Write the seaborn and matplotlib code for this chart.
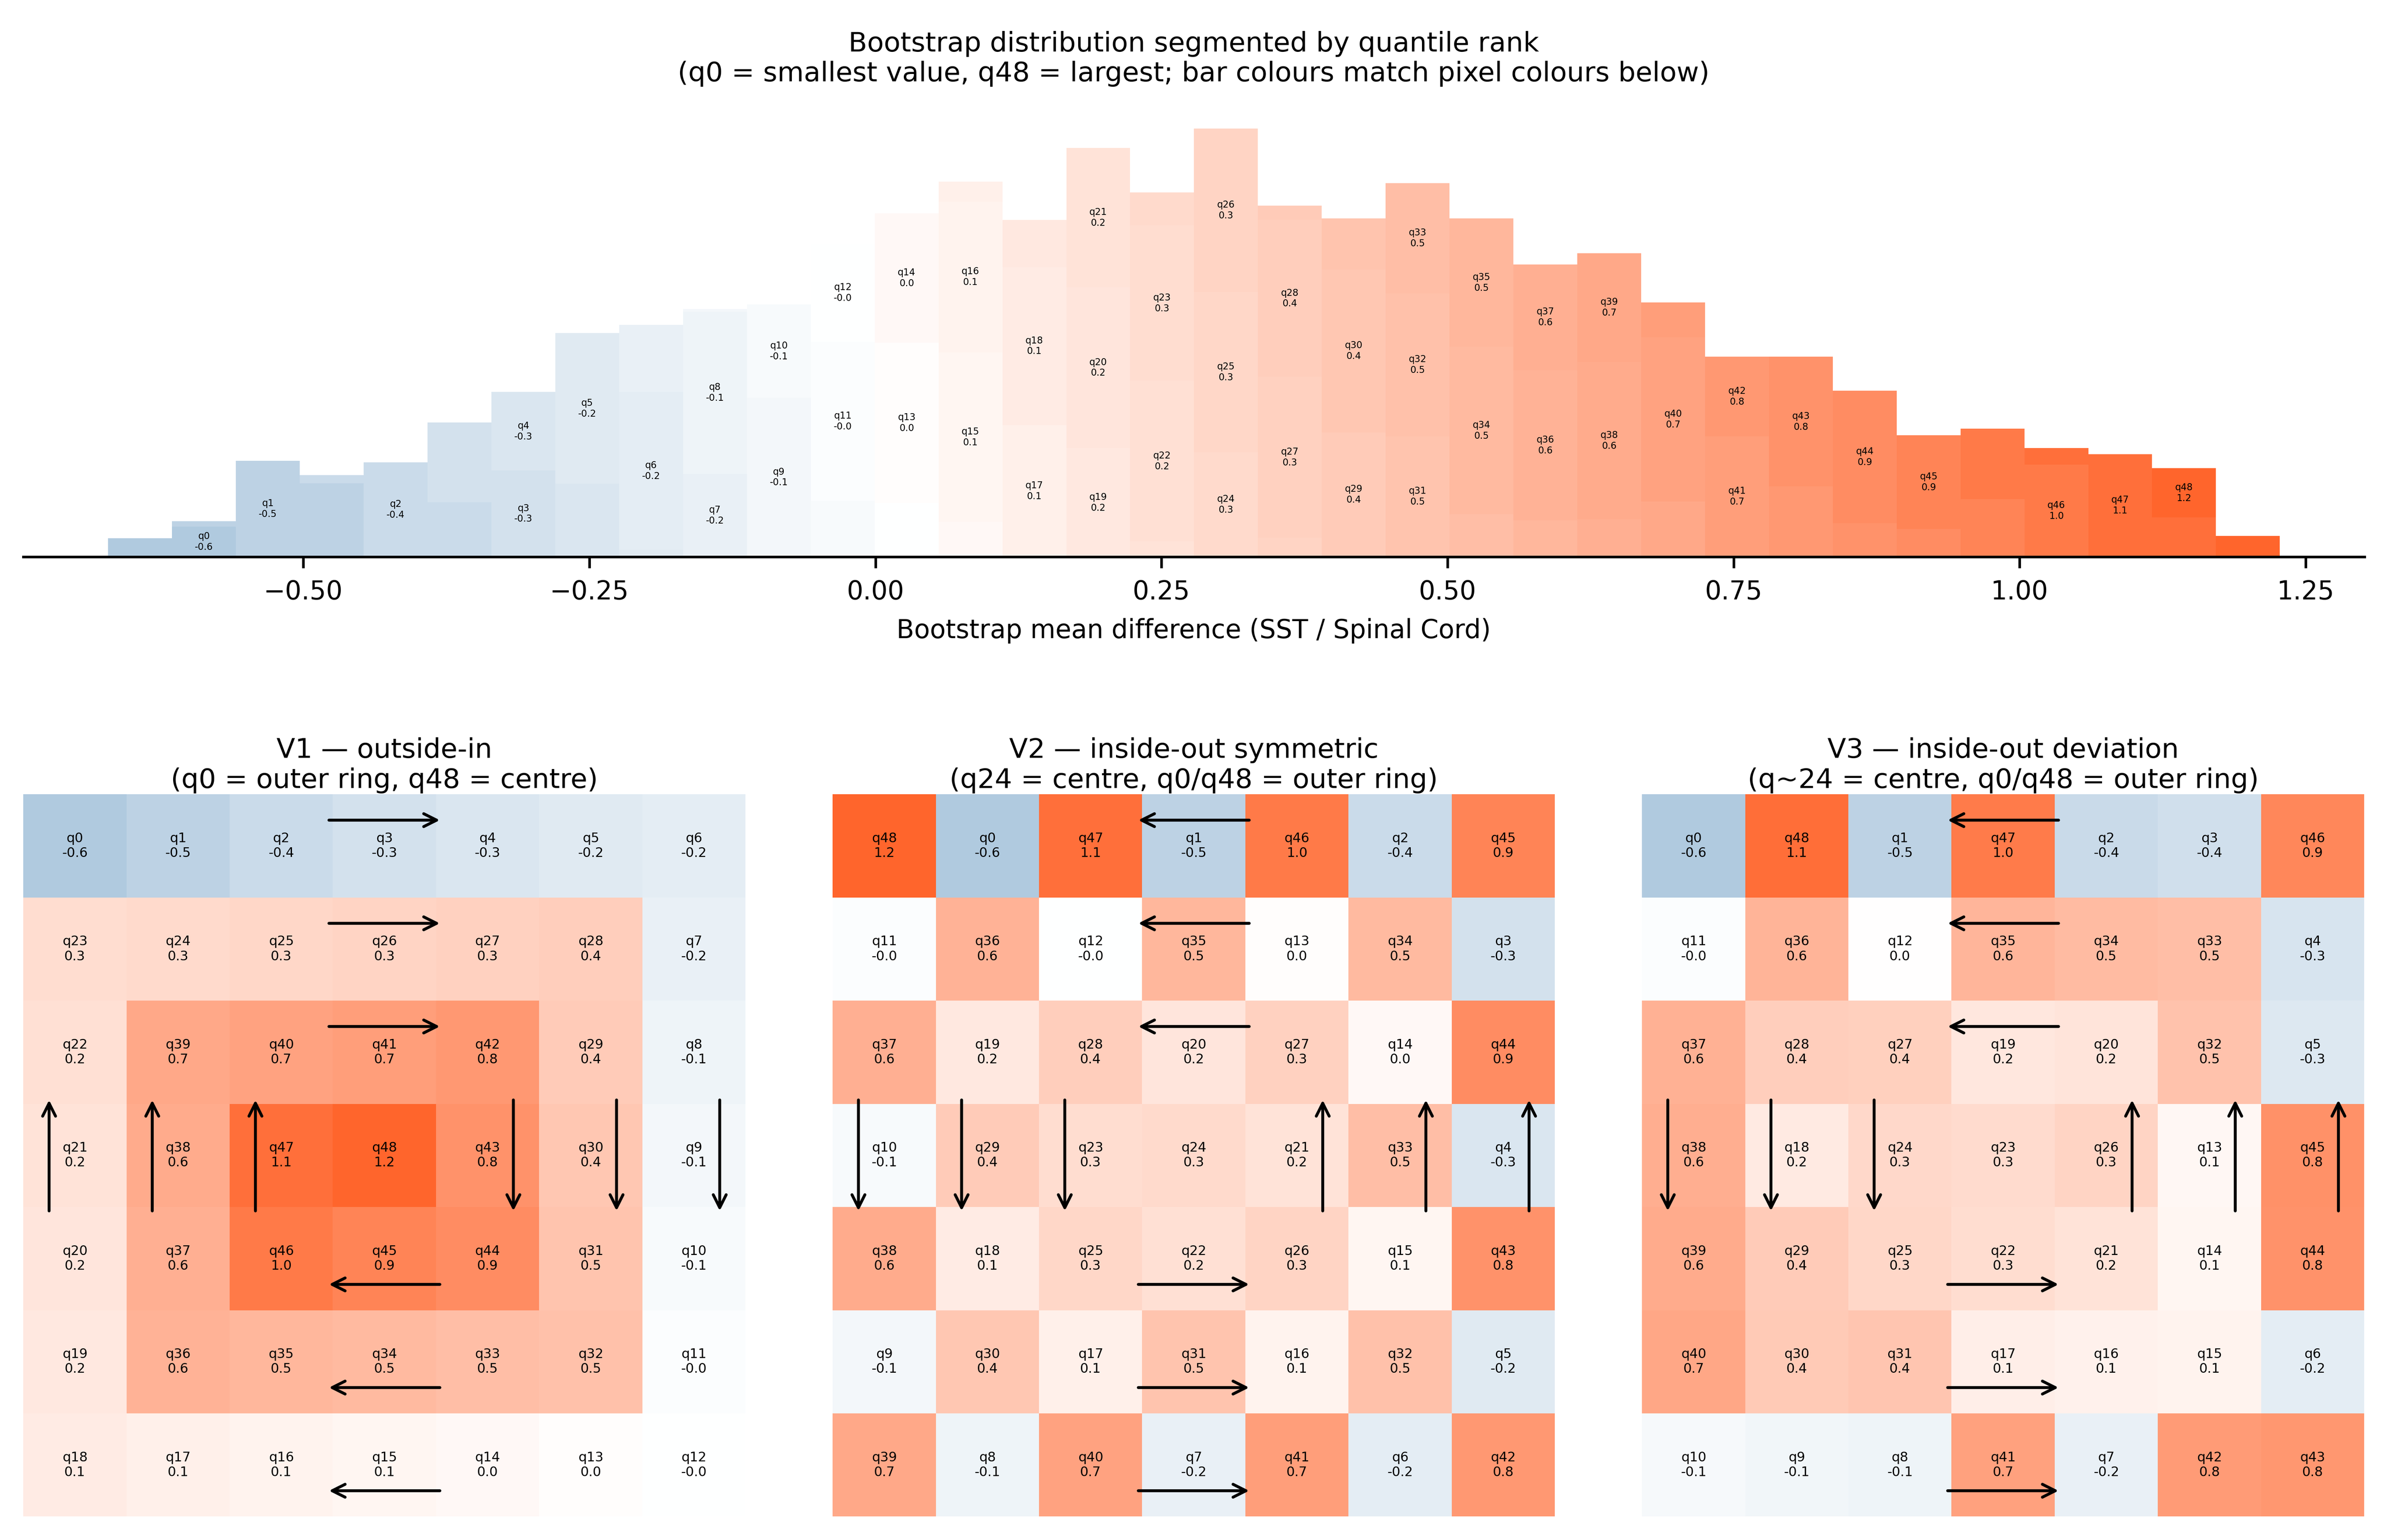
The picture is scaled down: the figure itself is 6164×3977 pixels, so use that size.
import numpy as np
import pandas as pd
import matplotlib
matplotlib.use("Agg")
import matplotlib.pyplot as plt
from matplotlib.colors import LinearSegmentedColormap, Normalize
import seaborn as sns

# ------------------------------------------------------------------ data
bin_min = -0.6706
bin_max = 1.2275
n_bins = 34

# stacked histogram segments (bottom -> top inside each bin)
seg_bin = [0, 1, 1, 2, 3, 3, 4, 5, 5, 6, 6, 7, 7, 8, 8, 8, 9, 9, 9, 10, 10,
           11, 11, 11, 12, 12, 12, 13, 13, 13, 13, 14, 14, 14, 15, 15, 15,
           16, 16, 16, 16, 17, 17, 17, 18, 18, 18, 18, 19, 19, 19, 20, 20, 20,
           21, 21, 21, 22, 22, 22, 23, 23, 23, 24, 24, 24, 25, 25, 26, 26,
           27, 27, 28, 28, 29, 29, 30, 30, 31, 32, 32, 33]
seg_q = [0, 0, 1, 1, 1, 2, 2, 2, 3, 3, 4, 4, 5, 5, 6, 7, 7, 8, 9, 9, 10,
         10, 11, 12, 12, 13, 14, 14, 15, 16, 17, 17, 18, 19, 19, 20, 21,
         21, 22, 23, 24, 24, 25, 26, 26, 27, 28, 29, 29, 30, 31, 31, 32, 33,
         33, 34, 35, 35, 36, 37, 37, 38, 39, 39, 40, 41, 41, 42, 42, 43,
         43, 44, 44, 45, 45, 46, 46, 47, 47, 47, 48, 48]
seg_count = [62, 102, 18, 324, 248, 27, 318, 184, 269, 291, 264, 246, 508,
             24, 532, 225, 279, 547, 9, 536, 314, 189, 535, 330, 181, 540,
             436, 117, 572, 507, 68, 444, 532, 159, 366, 542, 469, 52, 541,
             523, 111, 352, 540, 550, 64, 543, 527, 49, 419, 549, 172, 406,
             481, 372, 144, 563, 433, 122, 507, 356, 126, 530, 367, 186, 553,
             118, 406, 268, 237, 437, 113, 447, 94, 316, 194, 238, 311, 56,
             346, 133, 165, 71]

# representative value of each quantile group (histogram, V1, V2)
q_values = [-0.61, -0.51, -0.41, -0.34, -0.28, -0.24, -0.20, -0.17, -0.13,
            -0.096, -0.061, -0.032, -0.005, 0.021, 0.048, 0.073, 0.097, 0.120,
            0.146, 0.171, 0.193, 0.214, 0.237, 0.262, 0.283, 0.303, 0.325,
            0.348, 0.376, 0.399, 0.424, 0.451, 0.475, 0.497, 0.523, 0.548,
            0.579, 0.607, 0.635, 0.665, 0.699, 0.737, 0.780, 0.823, 0.875,
            0.940, 1.011, 1.095, 1.169]
# values shown in V3
v3_values = [-0.60, -0.50, -0.42, -0.36, -0.31, -0.26, -0.21, -0.17, -0.13,
             -0.10, -0.07, -0.03, 0.01, 0.06, 0.07, 0.09, 0.11, 0.13, 0.16,
             0.18, 0.20, 0.22, 0.26, 0.27, 0.29, 0.31, 0.33, 0.36, 0.37, 0.39,
             0.41, 0.44, 0.46, 0.49, 0.52, 0.56, 0.57, 0.59, 0.62, 0.64, 0.67,
             0.71, 0.76, 0.79, 0.83, 0.84, 0.92, 1.00, 1.10]

v1_grid = [[0, 1, 2, 3, 4, 5, 6],
           [23, 24, 25, 26, 27, 28, 7],
           [22, 39, 40, 41, 42, 29, 8],
           [21, 38, 47, 48, 43, 30, 9],
           [20, 37, 46, 45, 44, 31, 10],
           [19, 36, 35, 34, 33, 32, 11],
           [18, 17, 16, 15, 14, 13, 12]]
v2_grid = [[48, 0, 47, 1, 46, 2, 45],
           [11, 36, 12, 35, 13, 34, 3],
           [37, 19, 28, 20, 27, 14, 44],
           [10, 29, 23, 24, 21, 33, 4],
           [38, 18, 25, 22, 26, 15, 43],
           [9, 30, 17, 31, 16, 32, 5],
           [39, 8, 40, 7, 41, 6, 42]]
v3_grid = [[0, 48, 1, 47, 2, 3, 46],
           [11, 36, 12, 35, 34, 33, 4],
           [37, 28, 27, 19, 20, 32, 5],
           [38, 18, 24, 23, 26, 13, 45],
           [39, 29, 25, 22, 21, 14, 44],
           [40, 30, 31, 17, 16, 15, 6],
           [10, 9, 8, 41, 7, 42, 43]]

top_title = ("Bootstrap distribution segmented by quantile rank\n"
             "(q0 = smallest value, q48 = largest; bar colours match pixel colours below)")
x_label = "Bootstrap mean difference (SST / Spinal Cord)"
panel_titles = ["V1 \u2014 outside-in\n(q0 = outer ring, q48 = centre)",
                "V2 \u2014 inside-out symmetric\n(q24 = centre, q0/q48 = outer ring)",
                "V3 \u2014 inside-out deviation\n(q~24 = centre, q0/q48 = outer ring)"]

# ------------------------------------------------------------------ style
assert len(seg_bin) == len(seg_q) == len(seg_count)
cmap = LinearSegmentedColormap.from_list("blue_white_orange",
                                         ["steelblue", "white", "orangered"])
VLIM = 1.42
norm = Normalize(vmin=-VLIM, vmax=VLIM)

W, H, DPI = 6164, 3977, 600
FS = 8.45
FS_AX = 8.0
fig = plt.figure(figsize=(W / DPI, H / DPI), dpi=DPI)


def px_axes(left, top, right, bottom):
    return fig.add_axes([left / W, 1 - bottom / H, (right - left) / W, (bottom - top) / H])


# ------------------------------------------------------------------ histogram
ax_h = px_axes(59.6, 277, 6105.7, 1438)
edges = np.linspace(bin_min, bin_max, n_bins + 1)
centres = (edges[:-1] + edges[1:]) / 2
q_names = [f"q{i}" for i in range(len(q_values))]
df = pd.DataFrame({"x": centres[np.array(seg_bin)],
                   "q": [f"q{q}" for q in seg_q],
                   "count": seg_count})
palette = {f"q{i}": cmap(norm(v)) for i, v in enumerate(q_values)}
sns.histplot(data=df, x="x", weights="count", hue="q", hue_order=q_names[::-1],
             palette=palette, bins=[float(e) for e in edges], multiple="stack",
             element="bars", alpha=1, linewidth=0, edgecolor="none",
             legend=False, ax=ax_h)

# labels at the centre of each quantile's largest segment
bottoms = []
running = {}
for b, h in zip(seg_bin, seg_count):
    bottoms.append(running.get(b, 0))
    running[b] = running.get(b, 0) + h
for q in range(len(q_values)):
    idx = [i for i, s in enumerate(seg_q) if s == q]
    best = max(idx, key=lambda i: seg_count[i])
    ax_h.text(centres[seg_bin[best]], bottoms[best] + seg_count[best] / 2,
              f"q{q}\n{q_values[q]:.1f}", ha="center", va="center",
              fontsize=2.9, color="black")

max_total = max(running.values())
ax_h.set_xlim(-0.745, 1.3014)
ax_h.set_ylim(0, 1.05 * max_total)
ax_h.set_yticks([])
ax_h.set_ylabel("")
ax_h.set_xlabel(x_label, fontsize=FS_AX)
ax_h.tick_params(axis="x", labelsize=FS_AX)
sns.despine(ax=ax_h, left=True)
ax_h.set_title(top_title, fontsize=FS, pad=8)


# ------------------------------------------------------------------ grids
def draw_arrows(ax, outside_in):
    kw = dict(arrowprops=dict(arrowstyle="->", color="black", lw=0.9))
    lo, hi = 2.9, 4.1
    for r in range(3):
        y = r + 0.25
        a, b = (lo, hi) if outside_in else (hi, lo)
        ax.annotate("", xy=(b, y), xytext=(a, y), **kw)
    for c in range(3):
        x = c + 0.25
        a, b = (hi, lo) if outside_in else (lo, hi)
        ax.annotate("", xy=(x, b), xytext=(x, a), **kw)
    for c in range(4, 7):
        x = c + 0.75
        a, b = (lo, hi) if outside_in else (hi, lo)
        ax.annotate("", xy=(x, b), xytext=(x, a), **kw)
    for r in range(4, 7):
        y = r + 0.75
        a, b = (hi, lo) if outside_in else (lo, hi)
        ax.annotate("", xy=(b, y), xytext=(a, y), **kw)


grid_lefts = [59.6, 2149.6, 4239.6]
specs = [(v1_grid, q_values, True), (v2_grid, q_values, False), (v3_grid, v3_values, False)]
for left, (grid, vals, outside_in), title in zip(grid_lefts, specs, panel_titles):
    ax = px_axes(left, 2051.4, left + 1866.1, 3916.4)
    values = np.array([[vals[q] for q in row] for row in grid])
    annot = np.array([[f"q{q}\n{vals[q]:.1f}" for q in row] for row in grid])
    sns.heatmap(values, ax=ax, cmap=cmap, vmin=-VLIM, vmax=VLIM, annot=annot, fmt="",
                annot_kws={"fontsize": 4.1, "color": "black"}, cbar=False, square=True,
                xticklabels=False, yticklabels=False, linewidths=0)
    draw_arrows(ax, outside_in)
    ax.set_title(title, fontsize=FS, pad=2)

fig.savefig("out.png", dpi=DPI)
